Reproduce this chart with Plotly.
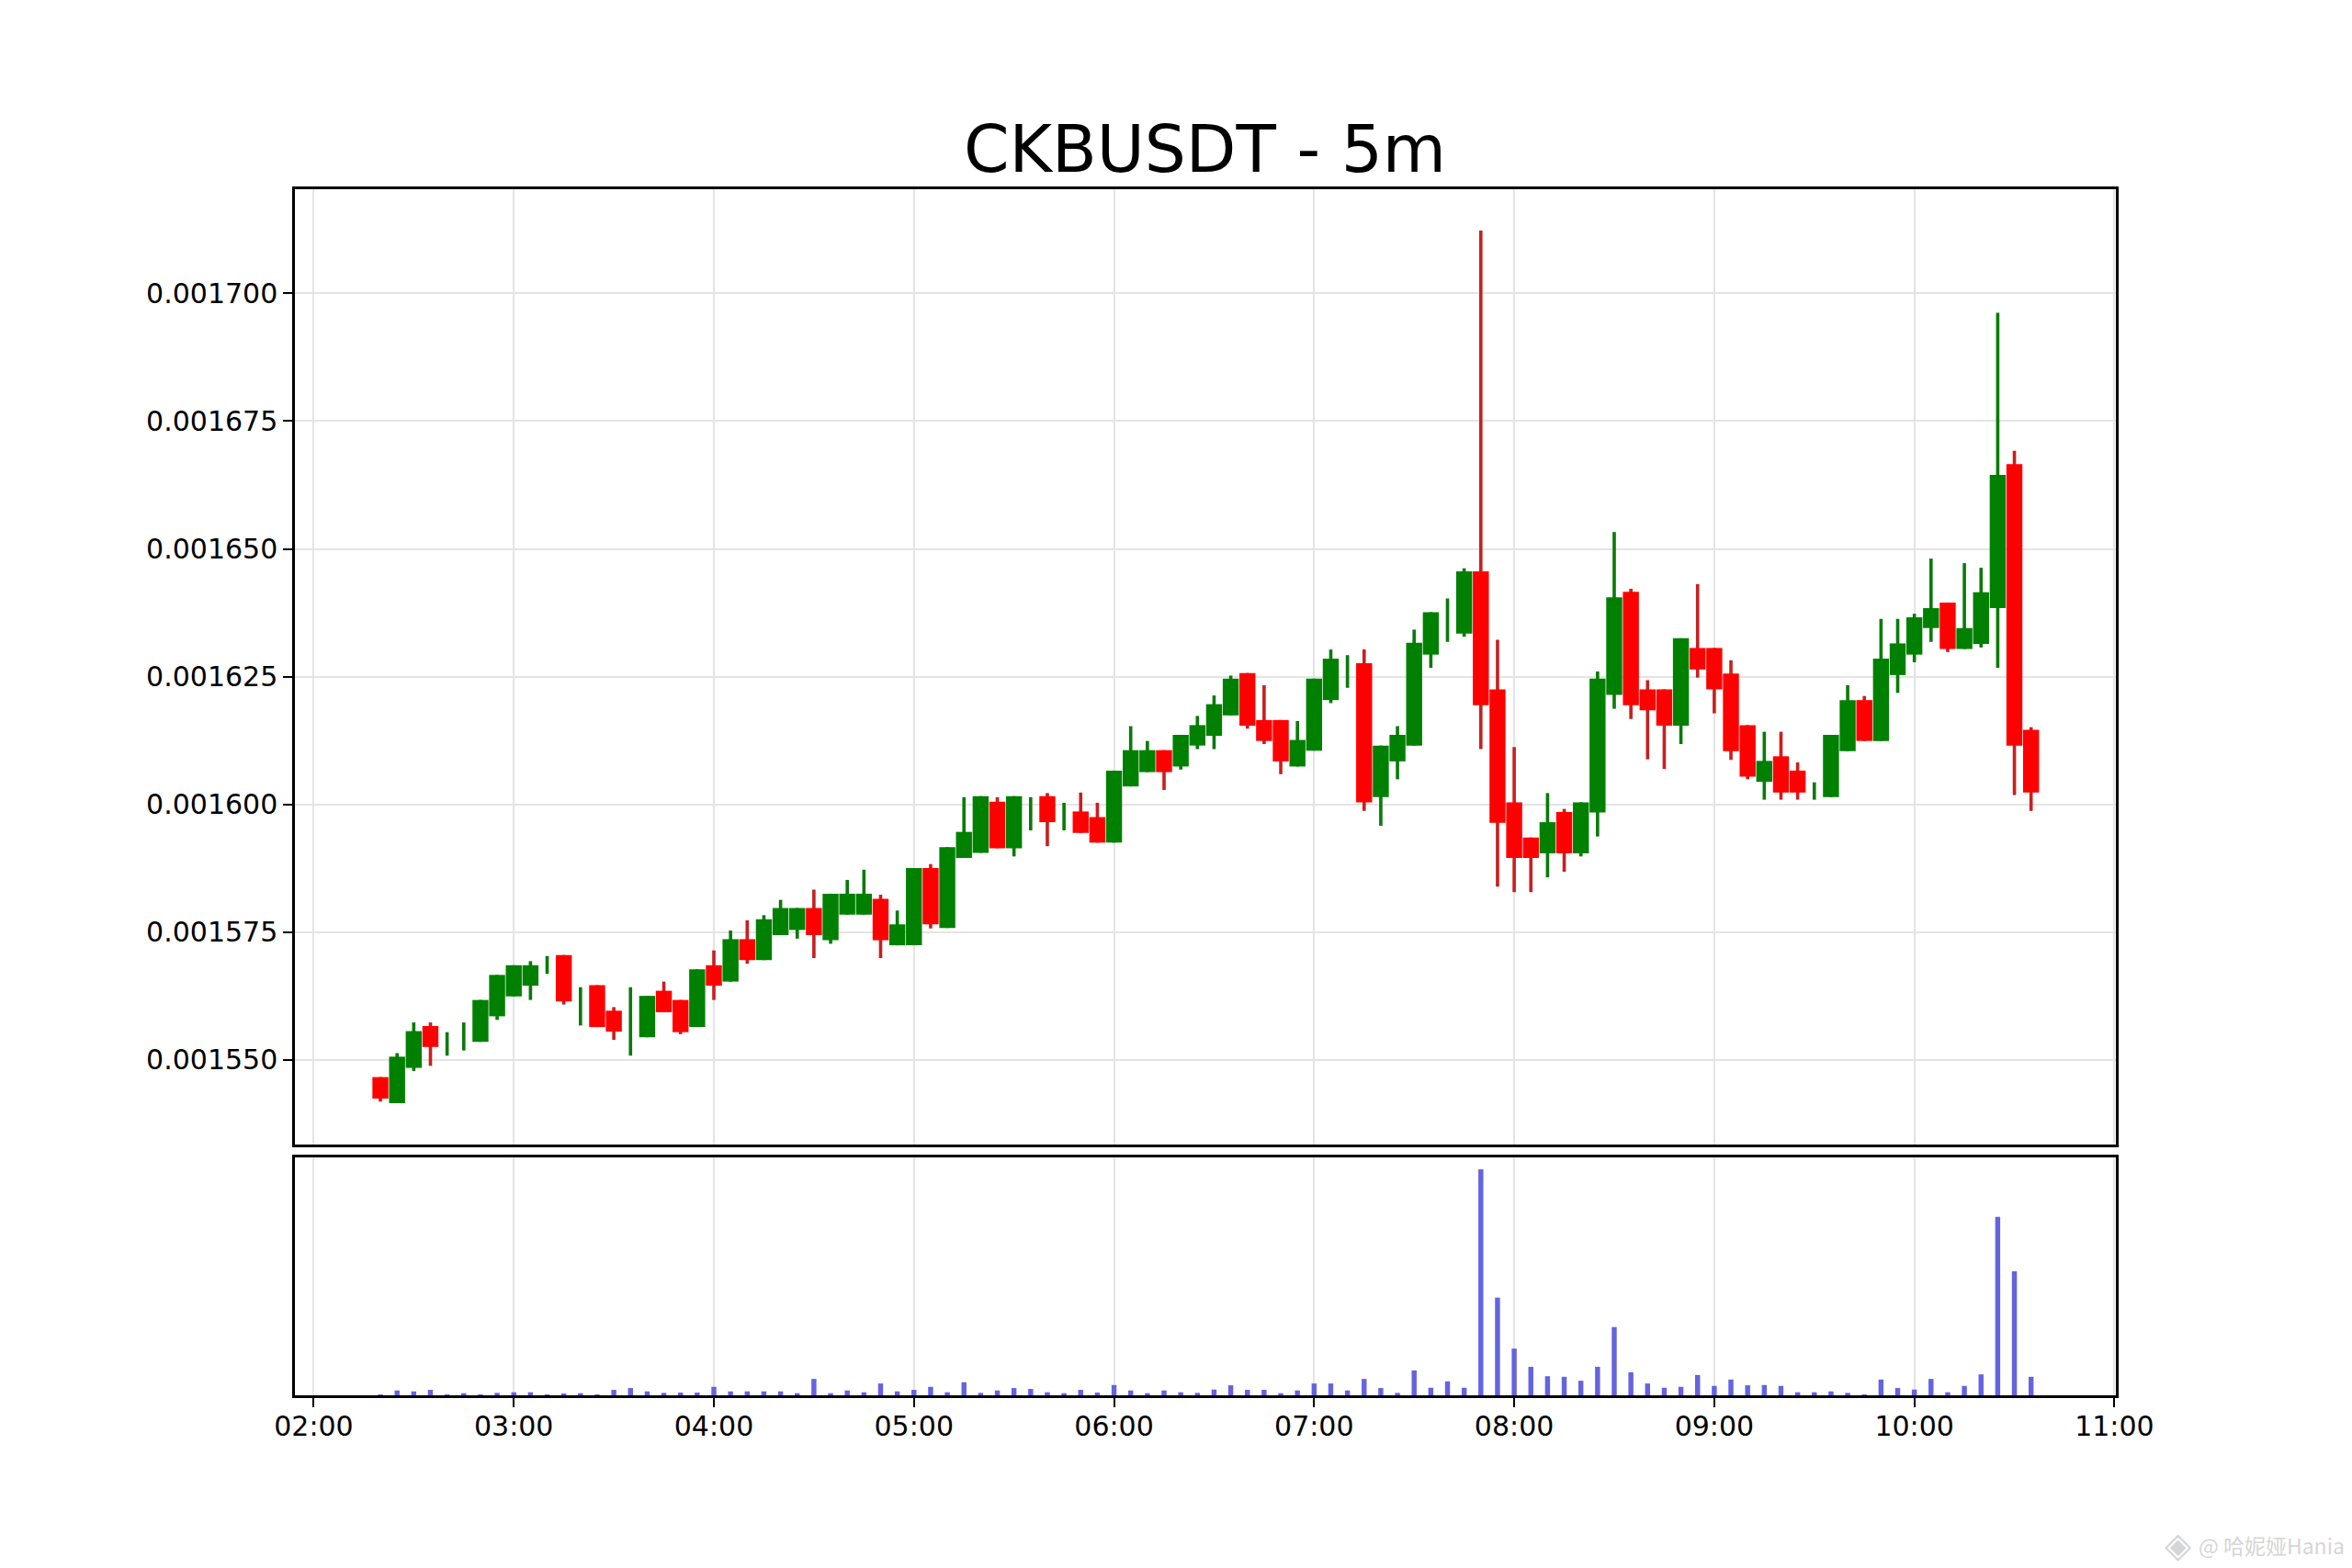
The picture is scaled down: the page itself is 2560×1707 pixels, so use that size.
"""
    plot.py
    CKBUSDT 5 minute candles with the volume panel underneath.
"""
import numpy as np
import pandas as pd
import plotly.graph_objs as go

WIDTH = 2560
HEIGHT = 1707

times = pd.date_range("2024-01-01 02:20", "2024-01-01 10:35", freq="5min")

opens = [
    1546.6, 1541.5, 1548.4, 1556.6, 1552.5, 1552.5, 1553.5, 1558.5, 1562.4, 1564.5,
    1566.8, 1570.5, 1561.4, 1564.6, 1559.6, 1555.4, 1554.4, 1563.5, 1561.7, 1556.4,
    1568.5, 1565.3, 1573.6, 1569.5, 1574.4, 1575.4, 1579.7, 1573.4, 1578.4, 1578.4,
    1581.5, 1572.4, 1572.4, 1587.5, 1575.8, 1589.5, 1590.5, 1600.5, 1591.4, 1598.0,
    1601.6, 1598.0, 1598.6, 1597.5, 1592.5, 1603.5, 1606.3, 1610.6, 1607.4, 1611.5,
    1613.4, 1617.4, 1625.7, 1616.5, 1616.5, 1607.4, 1610.5, 1620.4, 1625.0, 1627.6,
    1601.4, 1608.4, 1611.5, 1629.3, 1635.0, 1633.4, 1645.6, 1622.5, 1600.4, 1593.5,
    1590.4, 1598.5, 1590.4, 1598.4, 1621.4, 1641.6, 1622.5, 1622.5, 1615.4, 1630.6,
    1630.6, 1625.6, 1615.5, 1604.4, 1609.4, 1606.6, 1602.3, 1601.4, 1610.4, 1620.4,
    1612.4, 1625.3, 1629.3, 1634.5, 1639.5, 1630.4, 1631.4, 1638.4, 1666.6, 1614.6,
]
highs = [
    1546.6, 1551.3, 1557.3, 1557.3, 1555.4, 1557.3, 1561.7, 1566.6, 1568.5, 1569.3,
    1570.3, 1570.5, 1564.2, 1564.6, 1560.3, 1564.2, 1562.5, 1565.3, 1561.7, 1567.7,
    1571.4, 1575.3, 1577.3, 1578.3, 1581.3, 1579.7, 1583.3, 1582.5, 1585.2, 1587.2,
    1582.3, 1579.2, 1587.5, 1588.3, 1591.6, 1601.4, 1601.6, 1601.4, 1601.6, 1601.4,
    1602.2, 1600.3, 1602.3, 1600.3, 1606.6, 1615.3, 1612.4, 1610.6, 1613.6, 1617.3,
    1621.3, 1625.2, 1625.7, 1623.3, 1616.5, 1616.3, 1624.6, 1630.3, 1629.2, 1630.3,
    1611.5, 1615.3, 1634.2, 1637.6, 1640.3, 1646.2, 1712.3, 1632.2, 1611.2, 1593.5,
    1602.2, 1599.1, 1600.4, 1626.0, 1653.3, 1642.2, 1624.3, 1622.5, 1632.5, 1643.1,
    1630.6, 1628.2, 1615.5, 1614.2, 1614.2, 1608.2, 1604.3, 1613.6, 1623.3, 1621.2,
    1636.3, 1636.3, 1637.3, 1648.1, 1639.5, 1647.2, 1646.3, 1696.2, 1669.2, 1615.1,
]
lows = [
    1541.8, 1541.5, 1547.8, 1548.8, 1550.8, 1551.8, 1553.5, 1557.8, 1562.4, 1561.7,
    1566.8, 1560.8, 1556.7, 1556.4, 1553.9, 1550.8, 1554.4, 1559.3, 1555.0, 1556.4,
    1561.7, 1565.3, 1568.8, 1569.5, 1574.4, 1573.7, 1569.9, 1572.7, 1578.4, 1578.4,
    1569.9, 1572.4, 1572.4, 1575.7, 1575.8, 1589.5, 1590.5, 1591.4, 1589.8, 1594.9,
    1591.8, 1594.9, 1594.4, 1592.5, 1592.5, 1603.5, 1606.3, 1602.8, 1606.8, 1610.8,
    1610.8, 1617.4, 1614.8, 1611.8, 1605.9, 1607.4, 1610.5, 1619.8, 1622.8, 1598.7,
    1595.8, 1604.9, 1611.5, 1626.7, 1631.8, 1632.8, 1610.8, 1583.9, 1582.8, 1582.8,
    1585.7, 1586.8, 1589.8, 1593.7, 1618.7, 1616.7, 1608.8, 1606.9, 1611.8, 1624.8,
    1617.8, 1608.7, 1604.9, 1600.9, 1600.9, 1600.9, 1600.9, 1601.4, 1610.4, 1612.4,
    1612.4, 1621.8, 1627.8, 1631.8, 1629.8, 1630.4, 1630.7, 1626.7, 1601.8, 1598.7,
]
closes = [
    1542.4, 1550.6, 1555.6, 1552.5, 1552.5, 1552.5, 1561.7, 1566.6, 1568.5, 1568.5,
    1566.8, 1561.4, 1561.4, 1556.4, 1555.5, 1555.4, 1562.5, 1559.3, 1555.4, 1567.7,
    1564.5, 1573.6, 1569.5, 1577.5, 1579.7, 1579.7, 1574.4, 1582.5, 1582.5, 1582.5,
    1573.4, 1576.5, 1587.5, 1576.5, 1591.6, 1594.6, 1601.6, 1591.4, 1601.6, 1598.0,
    1596.5, 1598.0, 1594.4, 1592.5, 1606.6, 1610.6, 1610.6, 1606.3, 1613.6, 1615.5,
    1619.6, 1624.6, 1615.4, 1612.4, 1608.4, 1612.6, 1624.6, 1628.5, 1625.0, 1600.4,
    1611.5, 1613.6, 1631.6, 1637.6, 1635.0, 1645.6, 1619.4, 1596.4, 1589.5, 1589.5,
    1596.5, 1590.4, 1600.4, 1624.6, 1640.5, 1619.4, 1618.4, 1615.4, 1632.5, 1626.4,
    1622.5, 1610.4, 1605.4, 1608.5, 1602.3, 1602.3, 1602.3, 1613.6, 1620.4, 1612.4,
    1628.5, 1631.5, 1636.6, 1638.4, 1630.4, 1634.5, 1641.5, 1664.5, 1611.5, 1602.3,
]
volumes = [
    2, 16, 13, 18, 3, 7, 3, 8, 10, 10,
    3, 6, 7, 3, 18, 24, 13, 8, 9, 9,
    28, 13, 13, 13, 13, 7, 54, 7, 16, 10,
    39, 13, 18, 28, 10, 43, 8, 16, 24, 21,
    10, 7, 18, 9, 34, 16, 7, 16, 10, 8,
    19, 33, 18, 18, 7, 16, 39, 39, 16, 54,
    24, 8, 82, 25, 46, 25, 745, 322, 154, 94,
    63, 61, 48, 94, 225, 76, 39, 25, 28, 67,
    31, 52, 33, 34, 31, 10, 10, 13, 8, 3,
    52, 24, 19, 54, 10, 31, 69, 588, 409, 61,
]
price_ticks = [0.00155, 0.001575, 0.0016, 0.001625, 0.00165, 0.001675, 0.0017]
time_ticks = pd.date_range("2024-01-01 02:00", "2024-01-01 11:00", freq="1h")

UP_COLOR = "#008000"
DOWN_COLOR = "#ff0000"
UP_WICK = "#0a7a0a"
DOWN_WICK = "#c82020"
GRID_COLOR = "#e4e4e4"
WATERMARK_COLOR = "#d6d6d6"
FONT = "DejaVu Sans"

o = np.array(opens) * 1e-6
h = np.array(highs) * 1e-6
l = np.array(lows) * 1e-6
c = np.array(closes) * 1e-6
up = c >= o

wicks = go.Bar(
    x=times, y=h - l, base=l,
    width=60000,
    marker=dict(color=[UP_WICK if u else DOWN_WICK for u in up], line=dict(width=0)),
    xaxis="x", yaxis="y",
)
bodies = go.Bar(
    x=times, y=np.abs(c - o), base=np.minimum(o, c),
    width=288000,
    marker=dict(color=[UP_COLOR if u else DOWN_COLOR for u in up], line=dict(width=0)),
    xaxis="x", yaxis="y",
)
volume = go.Bar(
    x=times, y=volumes,
    width=90000,
    marker=dict(color="#6464e0", line=dict(width=0)),
    xaxis="x2", yaxis="y2",
)

common_x = dict(
    type="date",
    range=["2024-01-01 01:54:22", "2024-01-01 11:00:26"],
    tickvals=list(time_ticks),
    tickformat="%H:%M",
    showgrid=True, gridcolor=GRID_COLOR, gridwidth=2,
    showline=True, linecolor="black", linewidth=2.5, mirror=True,
    zeroline=False,
    automargin=False,
    domain=[321 / WIDTH, 2303 / WIDTH],
)

layout = go.Layout(
    width=WIDTH, height=HEIGHT,
    margin=dict(l=0, r=0, t=0, b=0, autoexpand=False),
    paper_bgcolor="white", plot_bgcolor="white",
    barmode="overlay",
    showlegend=False,
    font=dict(family=FONT, color="black", size=30),
    title=dict(
        text="CKBUSDT - 5m",
        font=dict(family=FONT, size=71, color="black"),
        x=1311.5 / WIDTH, xanchor="center",
        y=1 - 162.5 / HEIGHT, yanchor="middle",
    ),
    xaxis=dict(common_x, anchor="y", ticks="", showticklabels=False),
    yaxis=dict(
        domain=[1 - 1246 / HEIGHT, 1 - 206 / HEIGHT],
        anchor="x",
        range=[1533.4e-6, 1720.4e-6],
        tickvals=price_ticks, tickformat=".6f",
        ticks="outside", ticklen=10, tickwidth=2, tickcolor="black",
        ticklabelstandoff=0,
        showgrid=True, gridcolor=GRID_COLOR, gridwidth=2,
        showline=True, linecolor="black", linewidth=2.5, mirror=True,
        zeroline=False,
        automargin=False,
    ),
    xaxis2=dict(
        common_x, anchor="y2",
        ticks="outside", ticklen=10, tickwidth=2, tickcolor="black",
        ticklabelstandoff=-5,
    ),
    yaxis2=dict(
        domain=[1 - 1519 / HEIGHT, 1 - 1260 / HEIGHT],
        anchor="x2",
        range=[0, 784],
        showticklabels=False, ticks="", showgrid=False,
        showline=True, linecolor="black", linewidth=2.5, mirror=True,
        zeroline=False,
        automargin=False,
    ),
    annotations=[
        dict(
            text="◈",
            xref="paper", yref="paper",
            x=2371 / WIDTH, y=1 - 1682 / HEIGHT,
            xanchor="center", yanchor="middle",
            showarrow=False,
            font=dict(family=FONT, size=38, color=WATERMARK_COLOR),
        ),
        dict(
            text="@ 哈妮娅Hania",
            xref="paper", yref="paper",
            x=2554 / WIDTH, y=1 - 1682 / HEIGHT,
            xanchor="right", yanchor="middle",
            showarrow=False,
            font=dict(family="Noto Sans CJK SC", size=23, color=WATERMARK_COLOR),
        ),
    ],
)

fig = go.Figure(data=[wicks, bodies, volume], layout=layout)
fig.write_html(
    "out.html",
    config=dict(displayModeBar=False),
    post_script="document.body.style.margin='0';",
)
